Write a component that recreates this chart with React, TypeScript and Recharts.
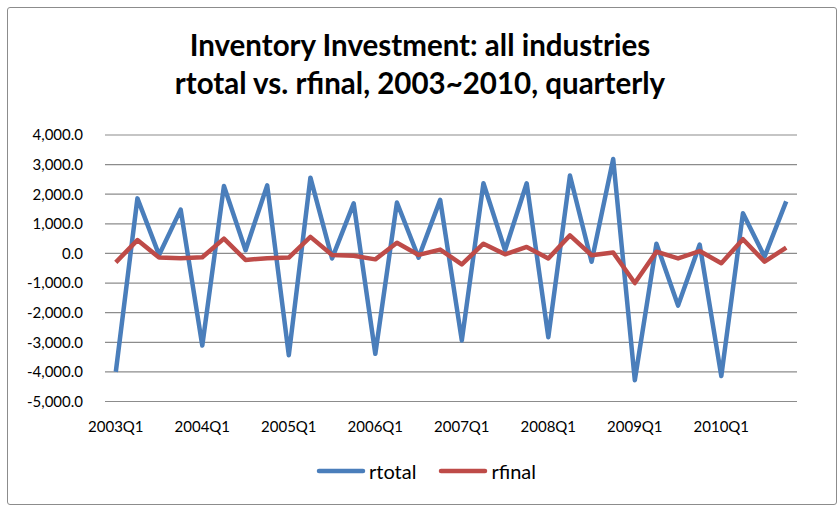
import { LineChart, Line, XAxis, YAxis, CartesianGrid, Legend } from 'recharts';

// quarters 2003Q1 .. 2010Q4
const quarters = [
  '2003Q1', '2003Q2', '2003Q3', '2003Q4',
  '2004Q1', '2004Q2', '2004Q3', '2004Q4',
  '2005Q1', '2005Q2', '2005Q3', '2005Q4',
  '2006Q1', '2006Q2', '2006Q3', '2006Q4',
  '2007Q1', '2007Q2', '2007Q3', '2007Q4',
  '2008Q1', '2008Q2', '2008Q3', '2008Q4',
  '2009Q1', '2009Q2', '2009Q3', '2009Q4',
  '2010Q1', '2010Q2', '2010Q3', '2010Q4',
];

const rtotal = [
  -4000, 1860, -50, 1480,
  -3110, 2280, 110, 2300,
  -3440, 2560, -170, 1690,
  -3390, 1720, -140, 1810,
  -2940, 2370, 110, 2370,
  -2830, 2630, -280, 3190,
  -4280, 330, -1760, 300,
  -4140, 1360, -110, 1760,
];

const rfinal = [
  -300, 450, -140, -160,
  -130, 500, -220, -160,
  -140, 560, -50, -80,
  -200, 360, -50, 130,
  -370, 330, -30, 220,
  -170, 610, -60, 30,
  -1000, 60, -170, 80,
  -330, 480, -280, 200,
];

const yTicks = [-5000, -4000, -3000, -2000, -1000, 0, 1000, 2000, 3000, 4000];

const data = quarters.map((q, i) => ({ q, rtotal: rtotal[i], rfinal: rfinal[i] }));

const FONT = 'Lato, "Open Sans", sans-serif';
const BLUE = '#4a7ebb';
const RED = '#be4b48';

function fmt(v: number): string {
  return v.toLocaleString('en-US', { minimumFractionDigits: 1, maximumFractionDigits: 1 });
}

function LegendContent() {
  const items = [
    { name: 'rtotal', color: BLUE },
    { name: 'rfinal', color: RED },
  ];
  return (
    <div style={{ display: 'flex', justifyContent: 'center', gap: 22, fontFamily: FONT, fontSize: 20, lineHeight: '24px', color: '#000' }}>
      {items.map((it) => (
        <div key={it.name} style={{ display: 'flex', alignItems: 'center' }}>
          <svg width={50} height={10}>
            <line x1={3} y1={5} x2={47} y2={5} stroke={it.color} strokeWidth={4.5} strokeLinecap="round" />
          </svg>
          <span style={{ marginLeft: 3 }}>{it.name}</span>
        </div>
      ))}
    </div>
  );
}

export default function App() {
  return (
    <div style={{ position: 'absolute', left: 0, top: 0, width: 840, height: 507, background: '#fff' }}>
      <div
        style={{
          position: 'absolute', left: 7, top: 7, width: 828, height: 496,
          border: '1.5px solid #8c8c8c', borderRadius: 3,
        }}
      />
      <div
        style={{
          position: 'absolute', left: 0, top: 26, width: 840, textAlign: 'center',
          fontFamily: FONT, fontWeight: 'bold', fontSize: 29.5, lineHeight: '38px', color: '#000',
        }}
      >
        Inventory Investment: all industries<br />rtotal vs. rfinal, 2003~2010, quarterly
      </div>
      <div style={{ position: 'absolute', left: 0, top: 0 }}>
        <LineChart width={840} height={507} data={data} margin={{ top: 135, right: 43, bottom: 35.5, left: 0 }}>
          <CartesianGrid vertical={false} stroke="#8c8c8c" strokeWidth={1.2} />
          <XAxis
            dataKey="q"
            interval={3}
            axisLine={false}
            tickLine={false}
            tickSize={0}
            tickMargin={20}
            height={30}
            padding={{ left: 10.8, right: 10.8 }}
            tick={{ fontFamily: FONT, fontSize: 15, fill: '#000' }}
          />
          <YAxis
            domain={[-5000, 4000]}
            ticks={yTicks}
            width={105}
            axisLine={false}
            tickLine={false}
            tickSize={0}
            tickMargin={22}
            tickFormatter={fmt}
            tick={{ fontFamily: FONT, fontSize: 15, fill: '#000' }}
          />
          <Legend verticalAlign="bottom" height={40} wrapperStyle={{ top: 459, left: 6, width: 840 }} content={<LegendContent />} />
          <Line dataKey="rtotal" stroke={BLUE} strokeWidth={4.5} dot={false} isAnimationActive={false} strokeLinejoin="round" />
          <Line dataKey="rfinal" stroke={RED} strokeWidth={4.5} dot={false} isAnimationActive={false} strokeLinejoin="round" />
        </LineChart>
      </div>
    </div>
  );
}
